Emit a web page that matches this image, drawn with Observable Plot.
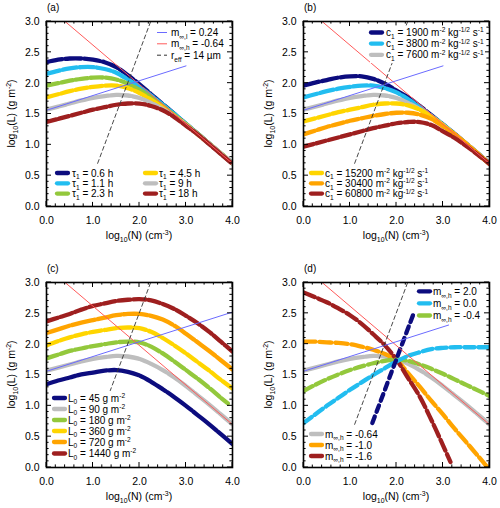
<!DOCTYPE html>
<html><head><meta charset="utf-8">
<script src="https://cdn.jsdelivr.net/npm/d3@7"></script>
<script src="https://cdn.jsdelivr.net/npm/@observablehq/plot@0.6"></script>
<style>
body{margin:0;background:#fff;}
#wrap{position:relative;width:500px;height:508px;background:#fff;}
#wrap svg{position:absolute;overflow:visible;}
</style></head><body><div id="wrap"></div>
<script>
// ---------- shared ticks ----------
const xTicks = [0, 1, 2, 3, 4];
const yTicks = [0, 0.5, 1, 1.5, 2, 2.5, 3];
const X = [0,0.25,0.5,0.75,1,1.25,1.5,1.75,2,2.25,2.5,2.75,3,3.25,3.5,3.75,4];

// ---------- reference lines ----------
const refRedX = [0.4, 4.0],  refRedY = [3.0, 0.696];      // m_inf,h = -0.64
const refBlueX_a = [0, 3.0], refBlueY_a = [1.56, 2.28];   // m_inf,l = 0.24
const refBlueX_c = [0, 4.0], refBlueY_c = [1.56, 2.52];
const refBlueX_d = [0, 3.12], refBlueY_d = [1.56, 2.31];
const refDashX = [1.1, 2.24], refDashY = [0.7, 3.0];      // r_eff = 14 um

// ---------- colours ----------
const C = {navy:"#0c0c7e", sky:"#22bdf0", green:"#93c83c", yellow:"#ffd500", grey:"#bebebe", orange:"#ffa400", brown:"#9e1f1f"};

// ---------- panel (a): tau_1 ----------
const aLabels = ["τ_{1} = 0.6 h","τ_{1} = 1.1 h","τ_{1} = 2.3 h","τ_{1} = 4.5 h","τ_{1} = 9 h","τ_{1} = 18 h"];
const aTau06 = [2.34,2.38,2.40,2.40,2.38,2.34,2.26,2.13,1.98,1.82,1.66,1.50,1.34,1.18,1.02,0.86,0.70];
const aTau11 = [2.15,2.20,2.24,2.26,2.26,2.23,2.17,2.06,1.94,1.80,1.65,1.50,1.34,1.18,1.02,0.86,0.70];
const aTau23 = [1.96,2.00,2.04,2.07,2.09,2.09,2.06,1.99,1.89,1.77,1.63,1.48,1.33,1.18,1.02,0.86,0.70];
const aTau45 = [1.77,1.82,1.87,1.91,1.94,1.96,1.96,1.92,1.84,1.73,1.61,1.47,1.33,1.17,1.02,0.86,0.70];
const aTau9  = [1.57,1.62,1.67,1.72,1.76,1.79,1.81,1.80,1.76,1.68,1.58,1.46,1.32,1.17,1.02,0.86,0.70];
const aTau18 = [1.37,1.42,1.47,1.52,1.57,1.61,1.65,1.67,1.67,1.63,1.56,1.45,1.31,1.17,1.01,0.85,0.69];
const refLabels = ["m_{∞,l} = 0.24","m_{∞,h} = -0.64","r_{eff} = 14 µm"];

// ---------- panel (b): c_1 ----------
const bLabels = ["c_{1} = 1900 m^{-2} kg^{-1/2} s^{-1}","c_{1} = 3800 m^{-2} kg^{-1/2} s^{-1}","c_{1} = 7600 m^{-2} kg^{-1/2} s^{-1}",
                 "c_{1} = 15200 m^{-2} kg^{-1/2} s^{-1}","c_{1} = 30400 m^{-2} kg^{-1/2} s^{-1}","c_{1} = 60800 m^{-2} kg^{-1/2} s^{-1}"];
const bC1900  = [1.96,2.01,2.05,2.09,2.11,2.11,2.07,1.99,1.88,1.77,1.63,1.48,1.33,1.18,1.02,0.86,0.70];
const bC3800  = [1.77,1.82,1.87,1.91,1.94,1.96,1.96,1.92,1.85,1.74,1.61,1.47,1.33,1.17,1.02,0.86,0.70];
const bC7600  = [1.57,1.62,1.67,1.72,1.76,1.79,1.81,1.80,1.76,1.68,1.58,1.46,1.32,1.17,1.02,0.86,0.70];
const bC15200 = [1.38,1.43,1.48,1.53,1.57,1.61,1.65,1.67,1.67,1.64,1.57,1.46,1.32,1.17,1.01,0.85,0.69];
const bC30400 = [1.17,1.23,1.29,1.34,1.39,1.43,1.47,1.50,1.52,1.52,1.49,1.42,1.30,1.17,1.02,0.86,0.69];
const bC60800 = [0.97,1.02,1.07,1.12,1.17,1.22,1.27,1.31,1.35,1.37,1.37,1.32,1.22,1.11,0.98,0.84,0.69];

// ---------- panel (c): L_0 ----------
const cLabels = ["L_{0} = 45 g m^{-2}","L_{0} = 90 g m^{-2}","L_{0} = 180 g m^{-2}","L_{0} = 360 g m^{-2}","L_{0} = 720 g m^{-2}","L_{0} = 1440 g m^{-2}"];
const cL45   = [1.35,1.41,1.46,1.51,1.54,1.57,1.58,1.55,1.49,1.39,1.27,1.14,1.00,0.85,0.70,0.54,0.38];
const cL90   = [1.57,1.62,1.67,1.72,1.76,1.79,1.81,1.80,1.76,1.68,1.58,1.46,1.32,1.17,1.02,0.86,0.70];
const cL180X = [0,0.25,0.5,0.75,1,1.25,1.5,1.75,2,2.25,2.5,2.75,3,3.25,3.5,3.75,3.9];
const cL180  = [1.77,1.83,1.89,1.93,1.97,2.00,2.03,2.04,2.03,1.96,1.85,1.72,1.58,1.44,1.29,1.13,1.04];
const cL360  = [1.98,2.05,2.11,2.16,2.20,2.23,2.26,2.27,2.26,2.20,2.10,1.98,1.85,1.71,1.57,1.42,1.28];
const cL720  = [2.18,2.24,2.30,2.35,2.39,2.43,2.47,2.49,2.49,2.46,2.40,2.30,2.17,2.03,1.89,1.74,1.59];
const cL1440 = [2.37,2.43,2.49,2.56,2.62,2.66,2.70,2.72,2.73,2.71,2.65,2.57,2.46,2.34,2.20,2.04,1.88];

// ---------- panel (d): m_inf,h ----------
const dLabels = ["m_{∞,h} = 2.0","m_{∞,h} = 0.0","m_{∞,h} = -0.4","m_{∞,h} = -0.64","m_{∞,h} = -1.0","m_{∞,h} = -1.6"];
const dM20X  = [1.48,1.6,1.75,1.9,2.0,2.1,2.2,2.3,2.37];
const dM20   = [0.72,0.96,1.26,1.56,1.76,1.96,2.16,2.36,2.50];
const dM00   = [0.72,0.86,1.00,1.13,1.26,1.38,1.50,1.61,1.72,1.81,1.87,1.92,1.94,1.95,1.95,1.95,1.95];
const dM04   = [1.24,1.34,1.43,1.51,1.58,1.64,1.69,1.73,1.75,1.73,1.67,1.60,1.52,1.43,1.34,1.25,1.16];
const dM064  = [1.57,1.62,1.67,1.72,1.76,1.79,1.81,1.80,1.76,1.68,1.58,1.46,1.32,1.17,1.02,0.86,0.70];
const dM10X  = [0,0.25,0.5,0.75,1,1.25,1.5,1.75,2,2.25,2.5,2.75,3,3.25,3.5,3.75,3.96];
const dM10   = [2.04,2.04,2.03,2.02,2.00,1.96,1.91,1.84,1.74,1.53,1.31,1.08,0.86,0.63,0.41,0.19,0.0];
const dM16X  = [0,0.25,0.5,0.75,1,1.25,1.5,1.75,2,2.25,2.5,2.75,3,3.16];
const dM16   = [2.84,2.76,2.68,2.58,2.47,2.33,2.16,1.98,1.75,1.45,1.15,0.77,0.36,0.09];

// ---------- rendering helpers ----------
const FONT = "'Liberation Sans', Arial, Helvetica, sans-serif";
const FS = 10.5;
const LFS = 10;
const DASH = "12,3";

function rich(textSel, str, fs) {
  const re = /([_^])\{([^}]*)\}/g;
  let last = 0, m; const parts = [];
  while ((m = re.exec(str))) {
    if (m.index > last) parts.push({t: str.slice(last, m.index), k: ""});
    parts.push({t: m[2], k: m[1]}); last = re.lastIndex;
  }
  if (last < str.length) parts.push({t: str.slice(last), k: ""});
  let shift = 0;
  for (const p of parts) {
    const target = p.k === "_" ? 0.28 * fs : p.k === "^" ? -0.36 * fs : 0;
    textSel.append("tspan").attr("dy", target - shift).attr("font-size", p.k ? fs * 0.66 : fs).text(p.t);
    shift = target;
  }
  return textSel;
}

function addText(g, x, y, str, opts = {}) {
  const fs = opts.fs || FS;
  const t = g.append("text").attr("x", x).attr("y", y)
    .attr("font-family", FONT).attr("font-size", fs).attr("fill", "black")
    .attr("text-anchor", opts.anchor || "start").style("white-space", "pre");
  if (opts.rotate) t.attr("transform", `rotate(${opts.rotate},${x},${y})`);
  return rich(t, str, fs);
}

function legend(svg, items, o) {
  const g = svg.append("g");
  const bg = g.append("rect").attr("fill", "white");
  items.forEach((it, i) => {
    const col = it.col || 0;
    const x0 = o.x0[col], x1 = o.x1[col], tx = o.tx[col];
    const y = o.ys[it.row != null ? it.row : i];
    g.append("line").attr("x1", x0).attr("x2", x1).attr("y1", y).attr("y2", y)
      .attr("stroke", it.color).attr("stroke-width", it.w || 4.3)
      .attr("stroke-dasharray", it.dash || null).attr("stroke-linecap", it.w && it.w < 2 ? "butt" : "round");
    addText(g, tx, y + 3.5, it.label, {fs: LFS});
  });
  if (o.bg) {
    const b = g.node().getBBox();
    bg.attr("x", b.x - 1).attr("y", b.y - 1).attr("width", b.width + 2).attr("height", b.height + 2);
  }
}

function makePanel(p) {
  const marks = [];
  for (const s of p.series) {
    const xs = s.x || X;
    const data = xs.map((x, i) => ({x, y: s.y[i]}));
    marks.push(Plot.line(data, {x: "x", y: "y", stroke: s.color, strokeWidth: 4.3,
      strokeDasharray: s.dash || DASH, curve: "catmull-rom", clip: true}));
  }
  for (const r of p.refs) {
    marks.push(Plot.line(r.x.map((x, i) => ({x, y: r.y[i]})), {x: "x", y: "y",
      stroke: r.color, strokeWidth: r.w, strokeDasharray: r.dash || null, clip: true}));
  }
  marks.push(Plot.frame({stroke: "black", strokeWidth: 1.6}));
  marks.push(Plot.axisX(xTicks, {tickSize: 0, tickPadding: 10, tickFormat: d => d.toFixed(1), label: null}));
  marks.push(Plot.axisY(yTicks, {tickSize: 0, tickPadding: 7, tickFormat: d => d.toFixed(1), label: null}));
  const svg = Plot.plot({
    width: 250, height: 254,
    marginLeft: p.m[0], marginRight: p.m[1], marginTop: p.m[2], marginBottom: p.m[3],
    x: {domain: [0, 4]}, y: {domain: [0, 3]},
    style: {fontFamily: FONT, fontSize: FS + "px", color: "black", background: "transparent"},
    marks
  });
  svg.style.left = p.pos[0] + "px"; svg.style.top = p.pos[1] + "px";
  document.getElementById("wrap").appendChild(svg);
  const s = d3.select(svg);
  const sx = svg.scale("x"), sy = svg.scale("y");
  const fx = sx.apply ? (v => sx.apply(v)) : d3.scaleLinear(sx.domain, sx.range);
  const fy = sy.apply ? (v => sy.apply(v)) : d3.scaleLinear(sy.domain, sy.range);
  const L = fx(0), R = fx(4), B = fy(0), T = fy(3);
  const tg = s.append("g").attr("stroke", "black").attr("stroke-width", 1);
  for (const v of d3.range(0, 4.0001, 0.2)) {
    const len = Math.abs(v - Math.round(v)) < 1e-6 ? 5 : 2.6, x = fx(v);
    tg.append("line").attr("x1", x).attr("x2", x).attr("y1", B).attr("y2", B - len);
    tg.append("line").attr("x1", x).attr("x2", x).attr("y1", T).attr("y2", T + len);
  }
  for (const v of d3.range(0, 3.0001, 0.1)) {
    const len = Math.abs(v * 2 - Math.round(v * 2)) < 1e-6 ? 5 : 2.6, y = fy(v);
    tg.append("line").attr("x1", L).attr("x2", L + len).attr("y1", y).attr("y2", y);
    tg.append("line").attr("x1", R).attr("x2", R - len).attr("y1", y).attr("y2", y);
  }
  addText(s, (L + R) / 2, B + 33, "log_{10}(N) (cm^{-3})", {anchor: "middle"});
  addText(s, L - 31, (T + B) / 2, "log_{10}(L) (g m^{-2})", {anchor: "middle", rotate: -90});
  addText(s, L + 1, T - 10.5, p.tag, {fs: 10});
  for (const lg of p.legends) legend(s, lg.items, lg);
}

const ref = (bx, by) => [
  {x: refRedX, y: refRedY, color: "#ff5a5a", w: 1},
  {x: bx, y: by, color: "#6b6bff", w: 1},
  {x: refDashX, y: refDashY, color: "#333", w: 0.9, dash: "4,3"}
];

makePanel({tag: "(a)", pos: [0, 0], m: [46, 18, 21, 48],
  series: [
    {y: aTau06, color: C.navy, dash: "16,3"}, {y: aTau11, color: C.sky, dash: "14,3"}, {y: aTau23, color: C.green},
    {y: aTau45, color: C.yellow}, {y: aTau9, color: C.grey, dash: "20,2"}, {y: aTau18, color: C.brown, dash: "10,3"}],
  refs: ref(refBlueX_a, refBlueY_a),
  legends: [
    {x0: [157], x1: [167], tx: [171], ys: [32.5, 43.8, 55.2], bg: true, items: [
      {label: refLabels[0], color: "#6b6bff", w: 1},
      {label: refLabels[1], color: "#ff5a5a", w: 1},
      {label: refLabels[2], color: "#333", w: 1, dash: "4,3"}]},
    {x0: [57, 145], x1: [68, 156], tx: [72, 159], ys: [173, 183.3, 193.6], bg: true, items: [
      {label: aLabels[0], color: C.navy, col: 0, row: 0},
      {label: aLabels[1], color: C.sky, col: 0, row: 1},
      {label: aLabels[2], color: C.green, col: 0, row: 2},
      {label: aLabels[3], color: C.yellow, col: 1, row: 0},
      {label: aLabels[4], color: C.grey, col: 1, row: 1},
      {label: aLabels[5], color: C.brown, col: 1, row: 2}]}
  ]});

makePanel({tag: "(b)", pos: [250, 0], m: [53, 11, 21, 48],
  series: [
    {y: bC1900, color: C.navy, dash: "16,3"}, {y: bC3800, color: C.sky, dash: "14,3"}, {y: bC7600, color: C.grey, dash: "20,2"},
    {y: bC15200, color: C.yellow}, {y: bC30400, color: C.orange}, {y: bC60800, color: C.brown, dash: "10,3"}],
  refs: ref(refBlueX_a, refBlueY_a),
  legends: [
    {x0: [121], x1: [132], tx: [136], ys: [32.5, 43.6, 54.8], bg: true, items: [
      {label: bLabels[0], color: C.navy}, {label: bLabels[1], color: C.sky}, {label: bLabels[2], color: C.grey}]},
    {x0: [61], x1: [72], tx: [75], ys: [173, 183.3, 193.6], bg: true, items: [
      {label: bLabels[3], color: C.yellow}, {label: bLabels[4], color: C.orange}, {label: bLabels[5], color: C.brown}]}
  ]});

makePanel({tag: "(c)", pos: [0, 254], m: [46, 18, 28, 41],
  series: [
    {y: cL45, color: C.navy, dash: "30,2"}, {y: cL90, color: C.grey, dash: "30,2"}, {x: cL180X, y: cL180, color: C.green},
    {y: cL360, color: C.yellow}, {y: cL720, color: C.orange, dash: "24,2.5"}, {y: cL1440, color: C.brown}],
  refs: ref(refBlueX_c, refBlueY_c),
  legends: [
    {x0: [54], x1: [65], tx: [68], ys: [144, 155, 166, 177, 188, 199.5], bg: true, items: [
      {label: cLabels[0], color: C.navy}, {label: cLabels[1], color: C.grey}, {label: cLabels[2], color: C.green},
      {label: cLabels[3], color: C.yellow}, {label: cLabels[4], color: C.orange}, {label: cLabels[5], color: C.brown}]}
  ]});

makePanel({tag: "(d)", pos: [250, 254], m: [53, 11, 28, 41],
  series: [
    {y: dM064, color: C.grey, dash: "30,2"}, {x: dM10X, y: dM10, color: C.orange, dash: "12,4"},
    {x: dM16X, y: dM16, color: C.brown, dash: "12,4"}, {y: dM04, color: C.green, dash: "10,4"},
    {y: dM00, color: C.sky, dash: "10,4"}, {x: dM20X, y: dM20, color: C.navy, dash: "7,5"}],
  refs: ref(refBlueX_d, refBlueY_d),
  legends: [
    {x0: [169], x1: [180], tx: [183], ys: [37.3, 49.3, 61.5], bg: true, items: [
      {label: dLabels[0], color: C.navy}, {label: dLabels[1], color: C.sky}, {label: dLabels[2], color: C.green}]},
    {x0: [61], x1: [72], tx: [75], ys: [180, 191, 202], bg: true, items: [
      {label: dLabels[3], color: C.grey}, {label: dLabels[4], color: C.orange}, {label: dLabels[5], color: C.brown}]}
  ]});
</script></body></html>
